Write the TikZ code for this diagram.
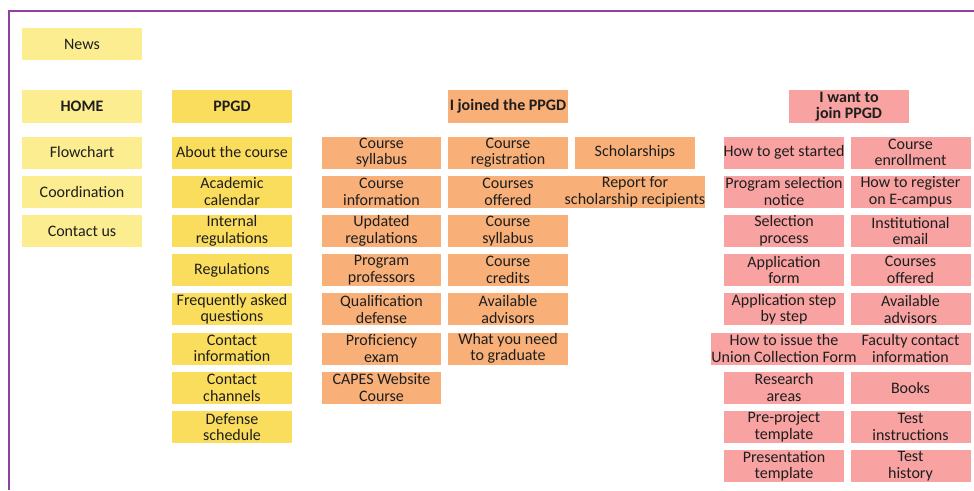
\documentclass[tikz,border=0pt]{standalone}
\usepackage{fontspec}
\setmainfont{Carlito}
\definecolor{yla}{HTML}{FCEE90}
\definecolor{ylb}{HTML}{FBDD5E}
\definecolor{org}{HTML}{F8B078}
\definecolor{pnk}{HTML}{F8A2A2}
\definecolor{txt}{HTML}{1E1E1E}
\definecolor{frm}{HTML}{9040A0}
\tikzset{
  box/.style={minimum width=120pt, minimum height=32pt, inner sep=0pt, align=center,
    font=\fontsize{16}{16.5}\selectfont, text=txt},
  hdr/.style={box, minimum height=33pt, font=\fontsize{16}{16.5}\selectfont\bfseries},
  ya/.style={fill=yla},
  yb/.style={fill=ylb},
  ob/.style={fill=org},
  pb/.style={fill=pnk}
}
\begin{document}
\begin{tikzpicture}[x=1pt,y=-1pt]
\useasboundingbox (0,0) rectangle (974,490);
\draw[frm, line width=2pt] (8.5,490) -- (8.5,10.5) -- (974,10.5);

% HOME column
\node[box,ya] (news) at (82,44) {News};
\node[hdr,ya] (home) at (82,106.5) {HOME};
\node[box,ya] (flow) at (82,152.5) {Flowchart};
\node[box,ya] (coord) at (82,191.7) {Coordination};
\node[box,ya] (contact) at (82,230.9) {Contact us};

% PPGD column
\node[hdr,yb] (ppgd) at (232,106.5) {PPGD};
\node[box,yb] (about) at (232,152.5) {About the course};
\node[box,yb] (acal) at (232,191.7) {Academic\\calendar};
\node[box,yb] (intreg) at (232,230.9) {Internal\\regulations};
\node[box,yb] (reg) at (232,270.1) {Regulations};
\node[box,yb] (faq) at (232,309.3) {Frequently asked\\questions};
\node[box,yb] (cinfo) at (232,348.5) {Contact\\information};
\node[box,yb] (cchan) at (232,387.7) {Contact\\channels};
\node[box,yb] (defs) at (232,426.9) {Defense\\schedule};

% I joined the PPGD
\node[hdr,ob] (joined) at (508,106.5) {I joined the PPGD};
\node[box,ob,minimum width=119pt] (csyl1) at (381.5,152.5) {Course\\syllabus};
\node[box,ob,minimum width=119pt] (cinf) at (381.5,191.7) {Course\\information};
\node[box,ob,minimum width=119pt] (upreg) at (381.5,230.9) {Updated\\regulations};
\node[box,ob,minimum width=119pt] (prof) at (381.5,270.1) {Program\\professors};
\node[box,ob,minimum width=119pt] (qual) at (381.5,309.3) {Qualification\\defense};
\node[box,ob,minimum width=119pt] (profic) at (381.5,348.5) {Proficiency\\exam};
\node[box,ob,minimum width=119pt] (capes) at (381.5,387.7) {CAPES Website\\Course};

\node[box,ob] (creg) at (508,152.5) {Course\\registration};
\node[box,ob] (coff) at (508,191.7) {Courses\\offered};
\node[box,ob] (csyl2) at (508,230.9) {Course\\syllabus};
\node[box,ob] (ccred) at (508,270.1) {Course\\credits};
\node[box,ob] (adv) at (508,309.3) {Available\\advisors};
\node[box,ob] (grad) at (508,348.5) {What you need\\to graduate};

\node[box,ob] (schol) at (635,152.5) {Scholarships};
\node[box,ob] (report) at (635,191.7) {Report for\\scholarship recipients};

% I want to join PPGD
\node[hdr,pb] (want) at (849,106.5) {I want to\\join PPGD};
\node[box,pb] (enr) at (910.5,152.5) {Course\\enrollment};
\node[box,pb] (ecamp) at (910.5,191.7) {How to register\\on E-campus};
\node[box,pb] (email) at (910.5,230.9) {Institutional\\email};
\node[box,pb] (coff2) at (910.5,270.1) {Courses\\offered};
\node[box,pb] (adv2) at (910.5,309.3) {Available\\advisors};
\node[box,pb] (fac) at (910.5,348.5) {Faculty contact\\information};
\node[box,pb] (books) at (910.5,387.7) {Books};
\node[box,pb] (tinst) at (910.5,426.9) {Test\\instructions};
\node[box,pb] (thist) at (910.5,466.1) {Test\\history};

\node[box,pb] (start) at (784,152.5) {How to get started};
\node[box,pb] (notice) at (784,191.7) {Program selection\\notice};
\node[box,pb] (selp) at (784,230.9) {Selection\\process};
\node[box,pb] (appf) at (784,270.1) {Application\\form};
\node[box,pb] (apps) at (784,309.3) {Application step\\by step};
\node[box,pb] (union) at (784,348.5) {How to issue the\\Union Collection Form};
\node[box,pb] (res) at (784,387.7) {Research\\areas};
\node[box,pb] (prep) at (784,426.9) {Pre-project\\template};
\node[box,pb] (pres) at (784,466.1) {Presentation\\template};
\end{tikzpicture}
\end{document}
